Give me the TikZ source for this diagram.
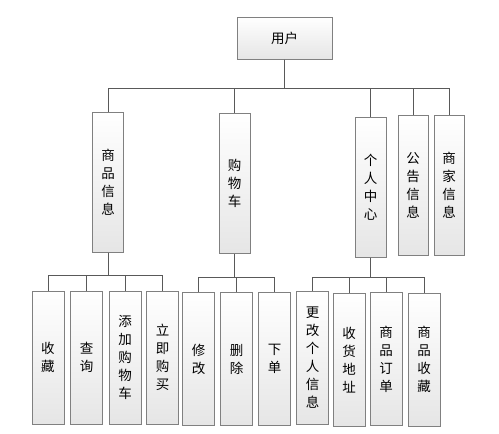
\documentclass[tikz,border=0pt]{standalone}
\usepackage{fontspec}
\newfontfamily\cjk{Noto Sans CJK SC}
\begin{document}
\begin{tikzpicture}[x=1pt,y=-1pt,
  box/.style={draw=black!50, line width=1pt, top color=white, bottom color=black!10,
    inner sep=0pt, align=center, text=black,
    font=\cjk\fontsize{13.5}{18}\selectfont},
  tall/.style={box, minimum width=31pt, minimum height=140pt},
  low/.style={box, minimum width=32pt, minimum height=133pt},
  link/.style={draw=black!65, line width=0.9pt}]
\useasboundingbox (0,0) rectangle (499,434);
% root
\node[box, minimum width=95pt, minimum height=42pt] (user) at (284.5,38) {用户};
% level 2
\node[tall] (spxx) at (108,182) {商\\品\\信\\息};
\node[tall] (gwc) at (234.5,183.5) {购\\物\\车};
\node[tall] (grzx) at (370.5,187) {个\\人\\中\\心};
\node[tall, minimum width=30pt] (ggxx) at (413,185.5) {公\\告\\信\\息};
\node[tall, minimum width=30pt] (sjxx) at (449,185.5) {商\\家\\信\\息};
% level 3
\node[low] (sc) at (48,357.5) {收\\藏};
\node[low] (cx) at (86.5,357.5) {查\\询};
\node[low] (tj) at (125,357.5) {添\\加\\购\\物\\车};
\node[low] (lj) at (162.5,357.5) {立\\即\\购\\买};
\node[low] (xg) at (198.5,359) {修\\改};
\node[low] (sch) at (236.5,359) {删\\除};
\node[low] (xd) at (274.5,359) {下\\单};
\node[low] (gg) at (312.5,358) {更\\改\\个\\人\\信\\息};
\node[low] (sh) at (349,360) {收\\货\\地\\址};
\node[low] (dd) at (386,359) {商\\品\\订\\单};
\node[low] (scc) at (424,359.5) {商\\品\\收\\藏};
% bus coordinates
\coordinate (b1) at (0,88);
\coordinate (b2) at (0,275);
\coordinate (b3) at (0,277);
\coordinate (b4) at (0,277);
% connectors
\foreach \c in {spxx,gwc,grzx,ggxx,sjxx}
  \draw[link] (user.south) -- (user.south |- b1) -| (\c.north);
\foreach \c in {sc,cx,tj,lj}
  \draw[link] (spxx.south) -- (spxx.south |- b2) -| (\c.north);
\foreach \c in {xg,sch,xd}
  \draw[link] (gwc.south) -- (gwc.south |- b3) -| (\c.north);
\foreach \c in {gg,sh,dd,scc}
  \draw[link] (grzx.south) -- (grzx.south |- b4) -| (\c.north);
\end{tikzpicture}
\end{document}
